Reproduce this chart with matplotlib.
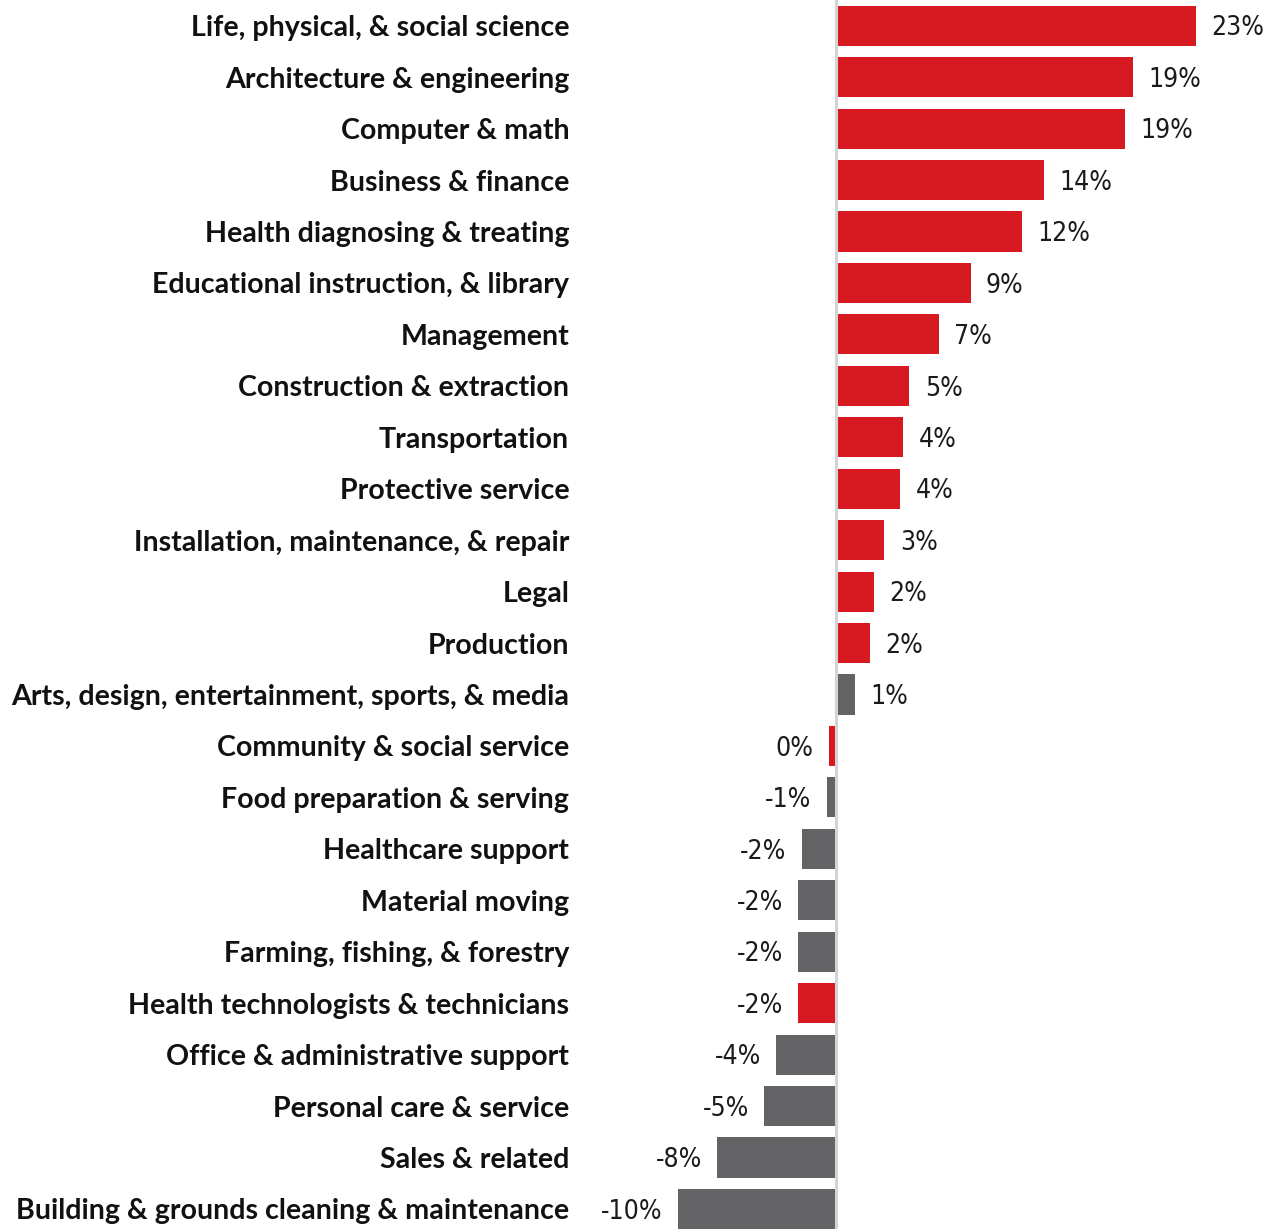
import matplotlib
matplotlib.use('Agg')
import matplotlib.pyplot as plt
import numpy as np

categorias = ['Life, physical, & social science', 'Architecture & engineering', 'Computer & math',
              'Business & finance', 'Health diagnosing & treating', 'Educational instruction, & library',
              'Management', 'Construction & extraction', 'Transportation', 'Protective service',
              'Installation, maintenance, & repair', 'Legal', 'Production',
              'Arts, design, entertainment, sports, & media', 'Community & social service',
              'Food preparation & serving', 'Healthcare support', 'Material moving',
              'Farming, fishing, & forestry', 'Health technologists & technicians',
              'Office & administrative support', 'Personal care & service', 'Sales & related',
              'Building & grounds cleaning & maintenance']
valores = [23.0, 19.0, 18.5, 13.3, 11.9, 8.6, 6.6, 4.7, 4.3, 4.1, 3.1, 2.4, 2.2, 1.2,
           -0.45, -0.6, -2.2, -2.4, -2.4, -2.4, -3.8, -4.6, -7.6, -10.1]
etiquetas = ['23%', '19%', '19%', '14%', '12%', '9%', '7%', '5%', '4%', '4%', '3%', '2%', '2%', '1%',
             '0%', '-1%', '-2%', '-2%', '-2%', '-2%', '-4%', '-5%', '-8%', '-10%']
destacado = [True] * 13 + [False, True, False, False, False, False, True, False, False, False, False]

ROJO = '#d71a21'
GRIS = '#636366'

fig = plt.figure(figsize=(12.72, 12.29), dpi=100)
ax = fig.add_axes([590 / 1272, 0, 1 - 590 / 1272, 1])

y = np.arange(len(categorias))
colores = [ROJO if d else GRIS for d in destacado]
ax.barh(y, valores, height=0.78, color=colores, zorder=2)
ax.axvline(0, color='#d4d4d4', lw=2.2, zorder=3)

for yi, v, txt in zip(y, valores, etiquetas):
    if v >= 0:
        ax.annotate(txt, (v, yi), xytext=(11, -2), textcoords='offset points',
                    ha='left', va='center', fontsize=19, family='DejaVu Sans',
                    fontstretch='condensed', color='#1a1a1a')
    else:
        ax.annotate(txt, (v, yi), xytext=(-11, -2), textcoords='offset points',
                    ha='right', va='center', fontsize=19, family='DejaVu Sans',
                    fontstretch='condensed', color='#1a1a1a')

ax.set_yticks(y)
ax.set_yticklabels(categorias, fontsize=20.6, fontweight='bold', family=['Lato', 'DejaVu Sans'],
                   color='#111111')
ax.tick_params(axis='y', length=0, pad=15)
ax.set_xticks([])
ax.set_xlim(-15.72, 27.87)
ax.set_ylim(23.39, -0.5)
for s in ax.spines.values():
    s.set_visible(False)

fig.savefig('out.png', dpi=100)
